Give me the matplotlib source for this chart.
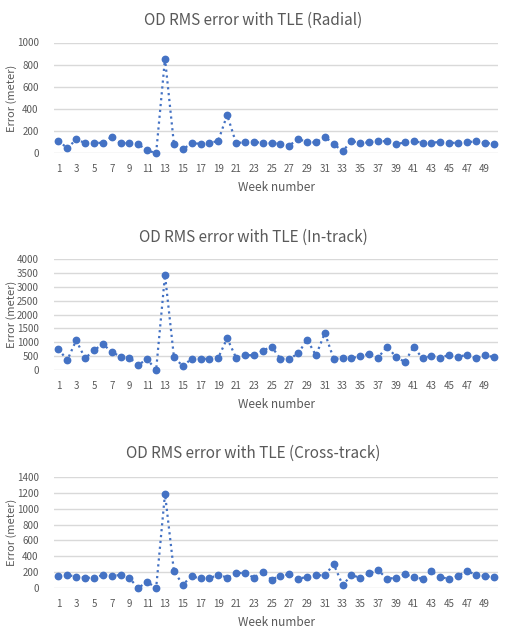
import matplotlib.pyplot as plt

plt.rcParams['font.family'] = ['Noto Sans CJK KR', 'DejaVu Sans']

weeks = list(range(1, 51))

radial = [114, 45, 126, 93, 96, 93, 150, 90, 93, 81,
          27, 0, 855, 87, 36, 90, 87, 90, 114, 346,
          93, 99, 104, 93, 90, 87, 69, 132, 99, 99,
          150, 84, 18, 111, 93, 99, 111, 108, 81, 99,
          108, 96, 96, 102, 96, 93, 99, 108, 93, 87]

in_track = [747, 361, 1072, 422, 711, 940, 651, 482, 434, 193,
            386, 0, 3434, 482, 133, 410, 410, 398, 446, 1145,
            446, 542, 530, 699, 843, 410, 398, 602, 1096, 530,
            1337, 398, 434, 422, 506, 578, 446, 843, 482, 289,
            831, 422, 506, 446, 542, 470, 554, 422, 530, 470]

cross_track = [159, 167, 146, 134, 130, 167, 155, 167, 125, 4,
               84, 0, 1187, 217, 46, 150, 125, 125, 171, 134,
               188, 196, 132, 209, 109, 159, 176, 121, 142, 163,
               163, 301, 42, 163, 134, 188, 230, 117, 134, 176,
               142, 117, 213, 142, 117, 155, 221, 167, 155, 138]

titles = ['OD RMS error with TLE (Radial)',
          'OD RMS error with TLE (In-track)',
          'OD RMS error with TLE (Cross-track)']
series = [radial, in_track, cross_track]
ymax = [1000, 4000, 1400]
ystep = [200, 500, 200]

blue = '#4472C4'
gray = '#595959'

fig = plt.figure(figsize=(5.06, 6.31), dpi=100)

# top / bottom pixel of each plot area
areas = [(42.5, 153.3), (259.3, 370.0), (476.7, 588.3)]
title_y = [20, 237, 453]

for i in range(3):
    top, bot = areas[i]
    ax = fig.add_axes([54 / 506, 1 - bot / 631, 444 / 506, (bot - top) / 631])
    ax.plot(weeks, series[i], color=blue, linestyle=':', linewidth=1.6,
            marker='o', markersize=4.6, markeredgecolor=blue, zorder=3,
            clip_on=False)
    ax.set_xlim(0.5, 50.5)
    ax.set_ylim(0, ymax[i])
    ax.set_yticks(range(0, ymax[i] + 1, ystep[i]))
    ax.set_xticks(range(1, 51, 2))
    ax.grid(axis='y', color='#D9D9D9', linewidth=1)
    ax.set_axisbelow(True)
    for s in ax.spines.values():
        s.set_visible(False)
    ax.tick_params(length=0, labelsize=7, labelcolor=gray)
    ax.tick_params(axis='x', pad=8)
    ax.tick_params(axis='y', pad=11)
    ax.set_ylabel('Error (meter)', fontsize=8, color=gray)
    ax.yaxis.set_label_coords(-0.083, 0.5)
    ax.set_xlabel('Week number', fontsize=8.5, color=gray)
    ax.xaxis.set_label_coords(0.5, -0.25)
    fig.text(0.5, 1 - title_y[i] / 631, titles[i], ha='center', va='center',
             fontsize=11, color=gray)

fig.savefig('out.png', dpi=100)
